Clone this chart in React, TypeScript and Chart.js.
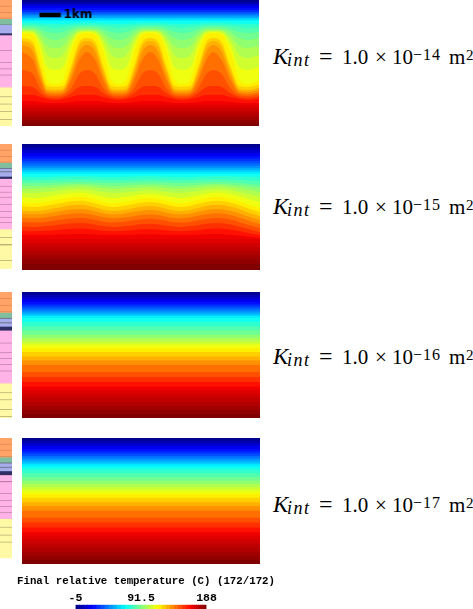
import React, { useEffect, useRef } from "react";
import { Chart, registerables } from "chart.js";

Chart.register(...registerables);

// Jet colour table, one colour per temperature band (coldest first)
const BAND_COLORS = [
  "#000090", "#0000b0", "#0000d0", "#0000f0", "#0010ff", "#0030ff", "#0050ff", "#0070ff",
  "#0090ff", "#00b0ff", "#00d0ff", "#00f0ff", "#10fff0", "#30ffd0", "#50ffb0", "#70ff90",
  "#90ff70", "#b0ff50", "#d0ff30", "#f0ff10", "#fff000", "#ffd000", "#ffb000", "#ff9000",
  "#ff7000", "#ff5000", "#ff3000", "#ff1000", "#f00000", "#e00000", "#d00000", "#c00000",
  "#b00000", "#a00000", "#900000", "#800000",
];
// Band edges in deg C
const BAND_EDGES = [
  -5, 1.03, 7.06, 13.09, 19.13, 25.16, 31.19, 37.22, 43.25, 49.28, 55.31, 61.34, 67.38, 73.41,
  79.44, 85.47, 91.5, 97.53, 103.56, 109.59, 115.63, 121.66, 127.69, 133.72, 139.75, 145.78,
  151.81, 157.84, 163.88, 166.89, 169.91, 172.92, 175.94, 178.95, 181.97, 184.98, 188,
];
const COLORBAR_TICKS = [-5, 91.5, 188];
const COLORBAR_TITLE = "Final relative temperature (C) (172/172)";

// Isotherm depths (km), one row per band edge from the second edge to the second last.
// K = 1e-14: stations across the section
const K14_STATIONS = [
  0, 0.5, 0.82, 1.14, 1.5, 1.86, 2.23, 2.59, 2.95, 3.32, 3.68, 4.05, 4.36, 4.73, 5.09,
  5.45, 5.82, 6.18, 6.55, 6.91, 7.27, 7.64, 8.0, 8.36, 8.68, 9.05, 9.45, 9.86, 10.23, 10.75,
];
const K14_ISOTHERMS = [
  [0.09, 0.09], [0.18, 0.18], [0.27, 0.27], [0.36, 0.36], [0.45, 0.45], [0.55, 0.55],
  [0.61, 0.61], [0.68, 0.68], [0.75, 0.75], [0.82, 0.82], [0.89, 0.89], [0.95, 0.95],
  [1.05, 1.05, 1.07, 1.09, 1.09, 1.09, 1.07, 1.05, 1.05, 1.05, 1.07, 1.09, 1.09, 1.09, 1.07, 1.05, 1.05, 1.05, 1.07, 1.09, 1.09, 1.09, 1.07, 1.05, 1.05, 1.05, 1.07, 1.09, 1.09, 1.09],
  [1.14, 1.14, 1.18, 1.23, 1.27, 1.23, 1.18, 1.14, 1.14, 1.14, 1.18, 1.23, 1.27, 1.23, 1.18, 1.14, 1.14, 1.14, 1.18, 1.23, 1.27, 1.23, 1.18, 1.14, 1.14, 1.14, 1.18, 1.23, 1.27, 1.23],
  [1.23, 1.23, 1.32, 1.45, 1.5, 1.45, 1.32, 1.23, 1.23, 1.23, 1.32, 1.45, 1.5, 1.45, 1.32, 1.23, 1.23, 1.23, 1.32, 1.45, 1.5, 1.45, 1.32, 1.23, 1.23, 1.23, 1.32, 1.45, 1.5, 1.45],
  [1.3, 1.32, 1.45, 1.73, 1.82, 1.73, 1.45, 1.32, 1.3, 1.32, 1.45, 1.73, 1.82, 1.73, 1.45, 1.32, 1.3, 1.32, 1.45, 1.73, 1.82, 1.73, 1.45, 1.32, 1.3, 1.32, 1.45, 1.73, 1.82, 1.73],
  [1.36, 1.39, 1.64, 2.09, 2.18, 2.09, 1.64, 1.39, 1.36, 1.39, 1.64, 2.09, 2.18, 2.09, 1.64, 1.39, 1.36, 1.39, 1.64, 2.09, 2.18, 2.09, 1.64, 1.39, 1.36, 1.39, 1.64, 2.09, 2.18, 2.09],
  [1.41, 1.43, 1.82, 2.5, 2.64, 2.5, 1.82, 1.43, 1.41, 1.43, 1.82, 2.5, 2.64, 2.5, 1.82, 1.43, 1.41, 1.43, 1.82, 2.5, 2.64, 2.5, 1.82, 1.43, 1.41, 1.43, 1.82, 2.5, 2.64, 2.5],
  [1.45, 1.5, 2.05, 3.05, 3.18, 3.05, 2.05, 1.5, 1.45, 1.5, 2.05, 3.05, 3.18, 3.05, 2.05, 1.5, 1.45, 1.5, 2.05, 3.05, 3.18, 3.05, 2.05, 1.5, 1.45, 1.5, 2.05, 3.05, 3.18, 3.05],
  [1.5, 1.59, 2.36, 3.64, 3.82, 3.64, 2.36, 1.59, 1.5, 1.59, 2.36, 3.64, 3.82, 3.64, 2.36, 1.59, 1.5, 1.59, 2.36, 3.64, 3.82, 3.64, 2.36, 1.59, 1.5, 1.59, 2.36, 3.64, 3.82, 3.64],
  [1.73, 1.91, 3.0, 3.91, 3.95, 3.91, 3.0, 1.91, 1.73, 1.91, 3.0, 3.91, 3.95, 3.91, 3.0, 1.91, 1.73, 1.91, 3.0, 3.91, 3.95, 3.91, 3.0, 1.91, 1.73, 1.91, 3.0, 3.91, 3.95, 3.85],
  [1.86, 2.09, 3.18, 4.05, 4.09, 4.05, 3.18, 2.09, 1.86, 2.09, 3.18, 4.05, 4.09, 4.05, 3.18, 2.09, 1.86, 2.09, 3.18, 4.05, 4.09, 4.05, 3.18, 2.09, 1.86, 2.09, 3.18, 4.05, 4.09, 4.0],
  [2.05, 2.36, 3.41, 4.14, 4.18, 4.14, 3.41, 2.36, 2.05, 2.36, 3.41, 4.14, 4.18, 4.14, 3.41, 2.36, 2.05, 2.36, 3.41, 4.14, 4.18, 4.14, 3.41, 2.36, 2.05, 2.36, 3.41, 4.14, 4.18, 4.1],
  [2.36, 2.73, 3.64, 4.23, 4.27, 4.23, 3.64, 2.73, 2.36, 2.73, 3.64, 4.23, 4.27, 4.23, 3.64, 2.73, 2.36, 2.73, 3.64, 4.23, 4.27, 4.23, 3.64, 2.73, 2.36, 2.73, 3.64, 4.23, 4.27, 4.2],
  [3.18, 3.36, 4.0, 4.32, 4.36, 4.32, 4.0, 3.36, 3.18, 3.36, 4.0, 4.32, 4.36, 4.32, 4.0, 3.36, 3.18, 3.36, 4.0, 4.32, 4.36, 4.32, 4.0, 3.36, 3.18, 3.36, 4.0, 4.32, 4.36, 4.3],
  [3.91, 3.95, 4.23, 4.41, 4.45, 4.41, 4.23, 3.95, 3.91, 3.95, 4.23, 4.41, 4.45, 4.41, 4.23, 3.95, 3.91, 3.95, 4.23, 4.41, 4.45, 4.41, 4.23, 3.95, 3.91, 3.95, 4.23, 4.41, 4.45, 4.4],
  [4.32, 4.32, 4.41, 4.5, 4.55, 4.5, 4.41, 4.32, 4.32, 4.32, 4.41, 4.5, 4.55, 4.5, 4.41, 4.32, 4.32, 4.32, 4.41, 4.5, 4.55, 4.5, 4.41, 4.32, 4.32, 4.32, 4.41, 4.5, 4.55, 4.5],
  [4.59, 4.59, 4.64, 4.68, 4.68, 4.68, 4.64, 4.59, 4.59, 4.59, 4.64, 4.68, 4.68, 4.68, 4.64, 4.59, 4.59, 4.59, 4.64, 4.68, 4.68, 4.68, 4.64, 4.59, 4.59, 4.59, 4.64, 4.68, 4.68, 4.68],
  [4.77, 4.77], [4.91, 4.91], [5.05, 5.05], [5.18, 5.18], [5.32, 5.32], [5.45, 5.45], [5.59, 5.59],
];

// K = 1e-15
const K15_STATIONS = [0, 0.5, 2.64, 4.14, 5.82, 7.18, 8.86, 10.82];
const K15_ISOTHERMS = [
  [0.14, 0.14], [0.27, 0.27], [0.41, 0.41], [0.55, 0.55], [0.66, 0.66], [0.77, 0.77],
  [0.89, 0.89], [1.0, 1.0], [1.09, 1.09], [1.18, 1.18], [1.27, 1.27], [1.36, 1.36],
  [1.48, 1.5, 1.45, 1.5, 1.46, 1.5, 1.45, 1.5],
  [1.62, 1.64, 1.59, 1.64, 1.6, 1.64, 1.59, 1.68],
  [1.76, 1.77, 1.73, 1.77, 1.74, 1.77, 1.73, 1.86],
  [1.9, 1.91, 1.82, 1.91, 1.84, 1.91, 1.82, 2.0],
  [2.03, 2.05, 1.91, 2.05, 1.95, 2.05, 1.91, 2.18],
  [2.2, 2.23, 2.05, 2.23, 2.1, 2.23, 2.05, 2.41],
  [2.42, 2.45, 2.2, 2.45, 2.27, 2.45, 2.2, 2.64],
  [2.65, 2.68, 2.4, 2.68, 2.46, 2.68, 2.4, 2.91],
  [2.83, 2.86, 2.58, 2.86, 2.64, 2.86, 2.58, 3.09],
  [3.02, 3.05, 2.76, 3.05, 2.82, 3.05, 2.76, 3.27],
  [3.18, 3.2, 2.95, 3.2, 3.0, 3.2, 2.95, 3.45],
  [3.36, 3.38, 3.15, 3.38, 3.2, 3.38, 3.15, 3.64],
  [3.55, 3.57, 3.36, 3.57, 3.4, 3.57, 3.36, 3.82],
  [3.75, 3.77, 3.59, 3.77, 3.62, 3.77, 3.59, 4.0],
  [3.95, 3.97, 3.84, 3.97, 3.86, 3.97, 3.84, 4.14],
  [4.14, 4.14, 4.09, 4.14, 4.1, 4.14, 4.09, 4.27],
  [4.32, 4.32], [4.5, 4.5], [4.68, 4.68], [4.86, 4.86], [5.05, 5.05], [5.25, 5.25], [5.45, 5.45],
];

// K = 1e-16
const K16_STATIONS = [0, 10.82];
const K16_ISOTHERMS = [
  [0.11, 0.11], [0.23, 0.23], [0.34, 0.34], [0.45, 0.45], [0.57, 0.57], [0.66, 0.66],
  [0.75, 0.75], [0.84, 0.84], [0.93, 0.93], [1.02, 1.02], [1.09, 1.09], [1.18, 1.18],
  [1.36, 1.36], [1.57, 1.57], [1.75, 1.75], [1.95, 1.95], [2.09, 2.09], [2.25, 2.25],
  [2.39, 2.39], [2.55, 2.55], [2.73, 2.73], [2.93, 2.93], [3.11, 3.11], [3.32, 3.32],
  [3.64, 3.64], [3.86, 3.86], [4.09, 4.09], [4.3, 4.3],
  [4.45, 4.45], [4.62, 4.62], [4.8, 4.8], [5.0, 5.0], [5.18, 5.18], [5.36, 5.36], [5.55, 5.55],
];

// K = 1e-17
const K17_STATIONS = [0, 10.82];
const K17_ISOTHERMS = [
  [0.12, 0.12], [0.25, 0.25], [0.37, 0.37], [0.5, 0.5], [0.62, 0.62], [0.72, 0.72],
  [0.82, 0.82], [0.92, 0.92], [1.02, 1.02], [1.12, 1.12], [1.2, 1.2], [1.3, 1.3],
  [1.43, 1.43], [1.6, 1.6], [1.78, 1.78], [1.95, 1.95], [2.1, 2.1], [2.25, 2.25],
  [2.4, 2.4], [2.55, 2.55], [2.73, 2.73], [2.93, 2.93], [3.12, 3.12], [3.32, 3.32],
  [3.64, 3.64], [3.86, 3.86], [4.09, 4.09], [4.3, 4.3],
  [4.45, 4.45], [4.63, 4.63], [4.8, 4.8], [5.0, 5.0], [5.2, 5.2], [5.4, 5.4], [5.58, 5.58],
];

// Stratigraphic column: unit colours, then thickness (km) and unit of every layer
const UNIT_COLORS: Record<string, string> = {
  orange: "#ffa366", orangeLine: "#d9824f", green: "#7fbfa0", greenLine: "#5f8f78",
  blue: "#a6acec", grey: "#70788f", dark: "#2f2f66",
  pink: "#ffb3e6", pinkLine: "#b87aa4", yellow: "#fff9a6", yellowLine: "#a8a268",
};
const STRAT14_UNITS = ["orange", "orangeLine", "orange", "orangeLine", "orange", "orangeLine", "orange", "green", "greenLine", "blue", "dark", "pink", "pinkLine", "pink", "pinkLine", "pink", "pinkLine", "pink", "pinkLine", "pink", "yellow", "yellowLine", "yellow", "yellowLine", "yellow", "yellowLine", "yellow", "yellowLine", "yellow"];
const STRAT14_KM = [0.25, 0.03, 0.25, 0.03, 0.23, 0.03, 0.03, 0.23, 0.03, 0.39, 0.09, 0.68, 0.03, 0.52, 0.03, 0.25, 0.03, 0.25, 0.03, 0.55, 0.41, 0.03, 0.3, 0.03, 0.3, 0.03, 0.34, 0.03, 0.35];
const STRAT15_UNITS = ["orange", "orangeLine", "orange", "orangeLine", "orange", "orangeLine", "orange", "green", "grey", "blue", "grey", "blue", "dark", "pink", "pinkLine", "pink", "pinkLine", "pink", "pinkLine", "pink", "pinkLine", "pink", "pinkLine", "pink", "pinkLine", "pink", "pinkLine", "pink", "yellow", "yellowLine", "yellow", "yellowLine", "yellow", "yellowLine", "yellow"];
const STRAT15_KM = [0.25, 0.03, 0.25, 0.03, 0.23, 0.03, 0.02, 0.23, 0.05, 0.1, 0.05, 0.2, 0.1, 0.32, 0.03, 0.24, 0.03, 0.2, 0.03, 0.29, 0.03, 0.29, 0.03, 0.24, 0.03, 0.2, 0.03, 0.3, 0.36, 0.03, 0.29, 0.05, 0.68, 0.03, 0.36];
const STRAT16_UNITS = ["orange", "orangeLine", "orange", "orangeLine", "orange", "orangeLine", "orange", "green", "grey", "blue", "grey", "blue", "dark", "pink", "pinkLine", "pink", "pinkLine", "pink", "pinkLine", "pink", "pinkLine", "pink", "pinkLine", "pink", "yellow", "yellowLine", "yellow", "yellowLine", "yellow", "yellowLine", "yellow", "yellowLine", "yellow"];
const STRAT16_KM = [0.27, 0.03, 0.27, 0.03, 0.27, 0.03, 0.03, 0.23, 0.05, 0.15, 0.05, 0.15, 0.18, 0.55, 0.03, 0.41, 0.03, 0.23, 0.03, 0.24, 0.03, 0.27, 0.03, 0.55, 0.41, 0.03, 0.29, 0.03, 0.41, 0.03, 0.29, 0.03, 0.3];
const STRAT17_UNITS = ["orange", "orangeLine", "orange", "orangeLine", "orange", "orangeLine", "orange", "green", "grey", "blue", "grey", "blue", "dark", "pink", "pinkLine", "pink", "pinkLine", "pink", "pinkLine", "pink", "pinkLine", "pink", "pinkLine", "pink", "yellow", "yellowLine", "yellow", "yellowLine", "yellow", "yellowLine", "yellow"];
const STRAT17_KM = [0.25, 0.03, 0.25, 0.03, 0.25, 0.03, 0.03, 0.23, 0.05, 0.15, 0.05, 0.15, 0.18, 0.27, 0.05, 0.5, 0.03, 0.29, 0.03, 0.25, 0.03, 0.25, 0.03, 0.27, 0.36, 0.03, 0.33, 0.03, 0.29, 0.03, 0.72];

const SCALE_BAR_X = [0.79, 1.76];
const SCALE_BAR_DEPTH = 0.68;
const SCALE_BAR_LABEL = "1km";
const K_EXPONENTS = ["14", "15", "16", "17"];

const KM = 22; // pixels per km in the figure

const PANELS = [
  { stations: K14_STATIONS, isotherms: K14_ISOTHERMS, units: STRAT14_UNITS, km: STRAT14_KM, top: 0, w: 236.5, h: 126, bar: true, base: 65, exp: K_EXPONENTS[0] },
  { stations: K15_STATIONS, isotherms: K15_ISOTHERMS, units: STRAT15_UNITS, km: STRAT15_KM, top: 144, w: 238, h: 126, bar: false, base: 215, exp: K_EXPONENTS[1] },
  { stations: K16_STATIONS, isotherms: K16_ISOTHERMS, units: STRAT16_UNITS, km: STRAT16_KM, top: 292, w: 238, h: 126, bar: false, base: 365, exp: K_EXPONENTS[2] },
  { stations: K17_STATIONS, isotherms: K17_ISOTHERMS, units: STRAT17_UNITS, km: STRAT17_KM, top: 437.5, w: 238, h: 126.5, bar: false, base: 513, exp: K_EXPONENTS[3] },
];

const hiddenAxis = { display: false };

function sectionConfig(p: (typeof PANELS)[number]): any {
  const maxDepth = p.h / KM;
  const maxX = p.w / KM;
  const rows = [[0, 0], ...p.isotherms];
  const datasets: any[] = rows.map((row, i) => {
    const xs = row.length === 2 ? [0, maxX] : p.stations;
    return {
      label: `${BAND_EDGES[i]} C`,
      data: row.map((d, j) => ({ x: xs[j], y: d })),
      backgroundColor: BAND_COLORS[i],
      borderWidth: 0,
      pointRadius: 0,
      cubicInterpolationMode: "monotone",
      fill: { value: maxDepth },
      order: rows.length - i,
    };
  });
  if (p.bar) {
    datasets.push({
      label: "scale bar",
      data: SCALE_BAR_X.map((x) => ({ x, y: SCALE_BAR_DEPTH })),
      borderColor: "#000",
      borderWidth: 4.5,
      pointRadius: 0,
      fill: false,
      order: -1,
    });
  }
  const barLabel = {
    id: "barLabel",
    afterDatasetsDraw(chart: any) {
      if (!p.bar) return;
      const { ctx, scales } = chart;
      ctx.save();
      ctx.fillStyle = "#000";
      ctx.font = "bold 12px 'DejaVu Sans'";
      ctx.textBaseline = "middle";
      ctx.fillText(SCALE_BAR_LABEL, scales.x.getPixelForValue(SCALE_BAR_X[1]) + 2.5, scales.y.getPixelForValue(SCALE_BAR_DEPTH));
      ctx.restore();
    },
  };
  return {
    type: "line",
    data: { datasets },
    plugins: [barLabel],
    options: {
      animation: false,
      responsive: false,
      plugins: { legend: { display: false }, tooltip: { enabled: false } },
      elements: { line: { borderWidth: 0 } },
      scales: {
        x: { type: "linear", min: 0, max: maxX, ...hiddenAxis },
        y: { type: "linear", min: 0, max: maxDepth, reverse: true, ...hiddenAxis },
      },
    },
  };
}

function stratConfig(p: (typeof PANELS)[number]): any {
  return {
    type: "bar",
    data: {
      labels: ["column"],
      datasets: p.km.map((t, i) => ({
        label: p.units[i],
        data: [t],
        backgroundColor: UNIT_COLORS[p.units[i]],
        borderWidth: 0,
        categoryPercentage: 1,
        barPercentage: 1,
      })),
    },
    options: {
      animation: false,
      responsive: false,
      plugins: { legend: { display: false }, tooltip: { enabled: false } },
      scales: {
        x: { stacked: true, ...hiddenAxis },
        y: { stacked: true, min: 0, max: p.h / KM, reverse: true, ...hiddenAxis },
      },
    },
  };
}

function colorbarConfig(): any {
  const silent = { ticks: { display: false }, grid: { display: false }, border: { display: false } };
  return {
    type: "bar",
    data: {
      labels: ["T"],
      datasets: BAND_COLORS.map((c, i) => ({
        label: `${BAND_EDGES[i]}`,
        data: [[BAND_EDGES[i], BAND_EDGES[i + 1]]],
        backgroundColor: c,
        borderWidth: 0,
        stack: "bar",
        xAxisID: "x",
        yAxisID: "y",
        categoryPercentage: 1,
        barPercentage: 1,
      })),
    },
    options: {
      indexAxis: "y",
      animation: false,
      responsive: false,
      plugins: {
        legend: { display: false },
        tooltip: { enabled: false },
        title: {
          display: true,
          text: COLORBAR_TITLE,
          color: "#000",
          font: { family: "'Liberation Mono'", weight: "bold", size: 10.75 },
          padding: { top: 5, bottom: 3 },
        },
      },
      scales: {
        x: {
          type: "linear",
          position: "top",
          stacked: false,
          min: BAND_EDGES[0],
          max: BAND_EDGES[BAND_EDGES.length - 1],
          afterBuildTicks(scale: any) {
            scale.ticks = COLORBAR_TICKS.map((value) => ({ value }));
          },
          ticks: {
            color: "#000",
            padding: 0,
            maxRotation: 0,
            autoSkip: false,
            font: { family: "'Liberation Mono'", weight: "bold", size: 11.5 },
            callback: (v: number) => `${v}`,
          },
          grid: { display: false, drawTicks: false },
          border: { display: false },
        },
        y: {
          type: "category",
          position: "left",
          ...silent,
          afterFit(s: any) {
            s.width = 75.5;
          },
        },
        yPad: {
          type: "linear",
          position: "right",
          ...silent,
          afterFit(s: any) {
            s.width = 85.5;
          },
        },
      },
    },
  };
}

function Canvas({ config, left, top, width, height, soft }: any) {
  const ref = useRef<HTMLCanvasElement>(null);
  useEffect(() => {
    const chart = new Chart(ref.current as HTMLCanvasElement, config);
    return () => chart.destroy();
  }, []);
  return (
    <canvas
      ref={ref}
      width={width}
      height={height}
      style={{ position: "absolute", left, top, width, height, display: "block", filter: soft ? "blur(0.7px)" : "none" }}
    />
  );
}

const SERIF = "'Liberation Serif', serif";

function Run({ x, y, size, italic, spacing, children }: any) {
  return (
    <span
      style={{
        position: "absolute",
        left: x,
        top: y - size,
        fontFamily: SERIF,
        fontSize: size,
        lineHeight: `${size * 1.2}px`,
        fontStyle: italic ? "italic" : "normal",
        letterSpacing: spacing || 0,
        whiteSpace: "nowrap",
        color: "#000",
      }}
    >
      {children}
    </span>
  );
}

function KLabel({ base, exp }: { base: number; exp: string }) {
  return (
    <>
      <Run x={273} y={base + 1.3} size={23} italic>K</Run>
      <Run x={287} y={base + 3} size={18} italic spacing={1.5}>int</Run>
      <Run x={319} y={base + 1.3} size={24}>=</Run>
      <Run x={342} y={base + 1.3} size={21}>1.0</Run>
      <Run x={375} y={base + 1.3} size={21}>×</Run>
      <Run x={392} y={base + 1.3} size={21}>10</Run>
      <Run x={413} y={base - 4} size={16} spacing={1}>{`−${exp}`}</Run>
      <Run x={449} y={base + 1.3} size={21}>m</Run>
      <Run x={466} y={base - 4} size={15}>2</Run>
    </>
  );
}

export default function App() {
  return (
    <div style={{ position: "absolute", left: 0, top: 0, width: 473, height: 609, overflow: "hidden", background: "#fff" }}>
      {PANELS.map((p) => (
        <React.Fragment key={p.exp}>
          <Canvas config={stratConfig(p)} left={0} top={p.top} width={12} height={p.h} soft />
          <Canvas config={sectionConfig(p)} left={22} top={p.top} width={p.w} height={p.h} soft />
          <KLabel base={p.base} exp={p.exp} />
        </React.Fragment>
      ))}
      <Canvas config={colorbarConfig()} left={0} top={570} width={292} height={39} />
    </div>
  );
}
